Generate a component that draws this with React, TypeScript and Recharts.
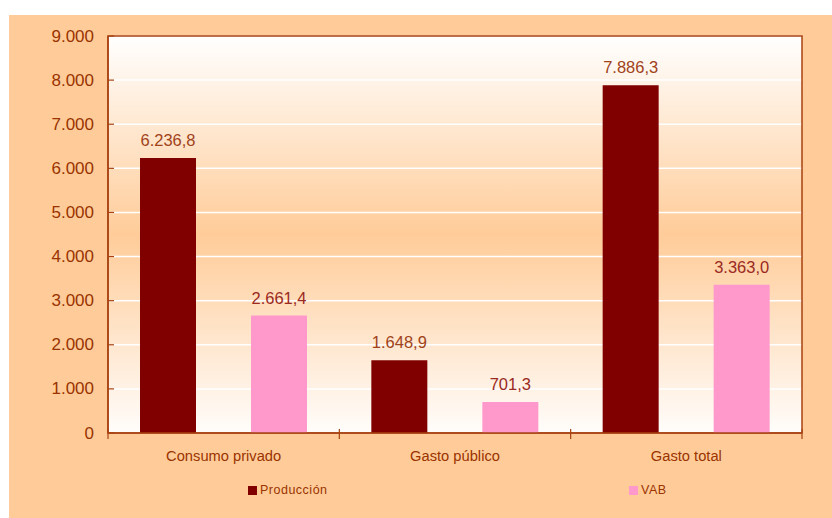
import { BarChart, Bar, XAxis, YAxis, CartesianGrid, Legend, LabelList, ReferenceArea } from 'recharts'

const categories = ['Consumo privado', 'Gasto público', 'Gasto total']
const produccion = [6236.8, 1648.9, 7886.3]
const vab = [2661.4, 701.3, 3363.0]
const yTicks = [0, 1000, 2000, 3000, 4000, 5000, 6000, 7000, 8000, 9000]

const data = categories.map((name, i) => ({ name, produccion: produccion[i], vab: vab[i] }))

const W = 823
const H = 503
const margin = { top: 21, right: 30, left: 0, bottom: 45 }
const Y_W = 99
const HALF_BAND = (W - margin.left - margin.right - Y_W) / categories.length / 2

const TEXT = '#993300'
const AXIS = '#a84210'
const PEACH = '#ffcc99'

// spanish number format: 1.234,5
const fmt = (v: number, d = 0) => {
  const [i, f] = v.toFixed(d).split('.')
  const int = i.replace(/\B(?=(\d{3})+(?!\d))/g, '.')
  return f ? `${int},${f}` : int
}

function ValueTick(props: any) {
  const { x, y, payload } = props
  return (
    <g>
      <line x1={x + 14} x2={x + 20} y1={y} y2={y} stroke={AXIS} strokeWidth={1.2} />
      <text x={x} y={y} dy={5.5} textAnchor="end" fill={TEXT} fontSize={17}>
        {fmt(payload.value)}
      </text>
    </g>
  )
}

function CategoryTick(props: any) {
  const { x, y, payload, index } = props
  const left = x - HALF_BAND
  const right = x + HALF_BAND
  return (
    <g>
      <line x1={left} x2={left} y1={y - 4} y2={y + 6} stroke={AXIS} strokeWidth={1.2} />
      {index === categories.length - 1 && (
        <line x1={right} x2={right} y1={y - 4} y2={y + 6} stroke={AXIS} strokeWidth={1.2} />
      )}
      <text x={x} y={y + 28} textAnchor="middle" fill={TEXT} fontSize={14.7}>
        {payload.value}
      </text>
    </g>
  )
}

function LegendContent({ payload }: any) {
  return (
    <div style={{ display: 'flex', height: 15, alignItems: 'center' }}>
      {(payload || []).map((p: any, i: number) => (
        <div
          key={p.value}
          style={{ display: 'flex', alignItems: 'center', width: i === 0 ? 381 : 'auto' }}
        >
          <span style={{ width: 9, height: 9, background: p.color, marginRight: 3 }} />
          <span style={{ fontSize: 12.5, letterSpacing: 0.5, color: TEXT, lineHeight: '15px' }}>
            {p.value}
          </span>
        </div>
      ))}
    </div>
  )
}

export default function App() {
  return (
    <div
      style={{
        position: 'fixed',
        left: 0,
        top: 0,
        width: 832,
        height: 518,
        background: '#fff',
        fontFamily: 'Arial, "Liberation Sans", sans-serif',
      }}
    >
      <div style={{ position: 'absolute', left: 9, top: 15, width: W, height: H, background: PEACH }}>
        <BarChart width={W} height={H} data={data} margin={margin} barSize={56} barGap={55}>
          <defs>
            <linearGradient id="plotBg" x1="0" y1="0" x2="0" y2="1">
              <stop offset="0%" stopColor="#ffffff" />
              <stop offset="50%" stopColor={PEACH} />
              <stop offset="100%" stopColor="#fffdfb" />
            </linearGradient>
          </defs>
          <CartesianGrid vertical={false} stroke="#ffffff" strokeWidth={1.5} fill="url(#plotBg)" />
          <XAxis
            dataKey="name"
            height={40}
            tickLine={false}
            tickSize={0}
            tickMargin={0}
            axisLine={{ stroke: AXIS, strokeWidth: 1.5 }}
            tick={<CategoryTick />}
            interval={0}
          />
          <YAxis
            width={Y_W}
            domain={[0, 9000]}
            ticks={yTicks}
            tickLine={false}
            tickSize={0}
            tickMargin={14}
            axisLine={{ stroke: AXIS, strokeWidth: 1.5 }}
            tick={<ValueTick />}
            interval={0}
          />
          <Bar dataKey="produccion" name="Producción" fill="#800000" isAnimationActive={false}>
            <LabelList
              dataKey="produccion"
              position="top"
              offset={12}
              formatter={(v: any) => fmt(Number(v), 1)}
              fill="#a0421a"
              fontSize={16.5}
            />
          </Bar>
          <Bar dataKey="vab" name="VAB" fill="#ff99cc" isAnimationActive={false}>
            <LabelList
              dataKey="vab"
              position="top"
              offset={12}
              formatter={(v: any) => fmt(Number(v), 1)}
              fill="#9a2a22"
              fontSize={16.5}
            />
          </Bar>
          <ReferenceArea y1={0} y2={9000} fill="none" stroke={AXIS} strokeWidth={1.5} />
          <Legend
            verticalAlign="middle"
            wrapperStyle={{ left: 239, top: 468, width: 450, height: 15 }}
            content={<LegendContent />}
          />
        </BarChart>
      </div>
    </div>
  )
}
